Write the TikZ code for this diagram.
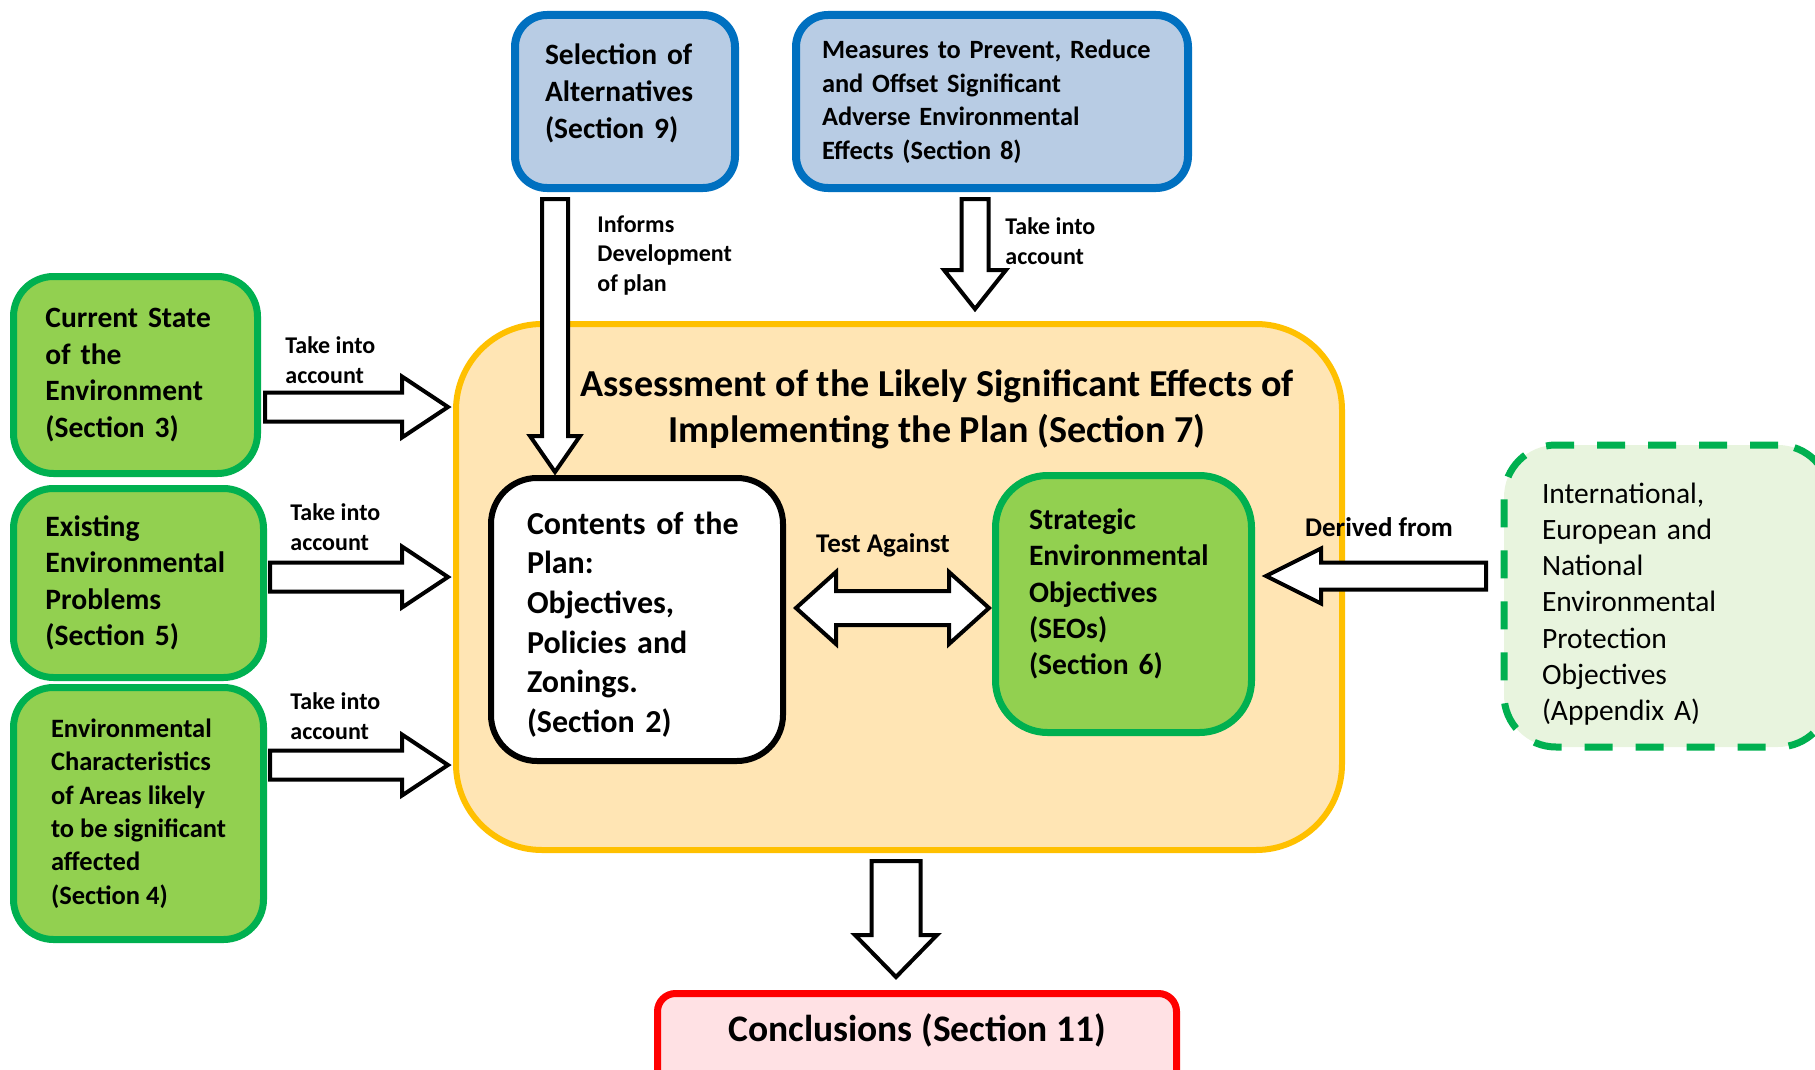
\documentclass[tikz,border=0pt]{standalone}
\usepackage{fontspec}
\setmainfont{Carlito}
\usetikzlibrary{calc}

\definecolor{blueedge}{HTML}{0070C0}
\definecolor{bluefill}{HTML}{B8CCE4}
\definecolor{greenedge}{HTML}{00B050}
\definecolor{greenfill}{HTML}{92D050}
\definecolor{orangeedge}{HTML}{FFC000}
\definecolor{orangefill}{HTML}{FFE5B4}
\definecolor{palegreen}{HTML}{E8F4DE}
\definecolor{rededge}{HTML}{FF0000}
\definecolor{pinkfill}{HTML}{FFE1E4}

\newcommand{\fsz}[2]{\fontsize{#1}{#2}\selectfont}

\tikzset{
    shaftw/.store in=\shaftw, headw/.store in=\headw, headl/.store in=\headl,
    tipgap/.store in=\tipgap,
    shaftw=7.25pt, headw=15.25pt, headl=23pt, tipgap=1.5pt,
    fat/.style={draw, fill=white, line width=2pt, line join=miter,
        to path={let \p1=(\tikztostart), \p2=(\tikztotarget),
            \n1={atan2(\y2-\y1,\x2-\x1)}, \n2={abs(\x2-\x1)+abs(\y2-\y1)-\tipgap} in
            [shift={(\p1)}, rotate=\n1]
            (0pt,-\shaftw) -- ({\n2*1pt-\headl},-\shaftw) -- ({\n2*1pt-\headl},-\headw)
            -- ({\n2*1pt},0pt) -- ({\n2*1pt-\headl},\headw) -- ({\n2*1pt-\headl},\shaftw)
            -- (0pt,\shaftw) -- cycle}},
    fatboth/.style={draw, fill=white, line width=2pt, line join=miter,
        to path={let \p1=(\tikztostart), \p2=(\tikztotarget),
            \n1={atan2(\y2-\y1,\x2-\x1)}, \n2={abs(\x2-\x1)+abs(\y2-\y1)-\tipgap} in
            [shift={(\p1)}, rotate=\n1]
            (0pt,0pt) -- (\headl,\headw) -- (\headl,\shaftw) -- ({\n2*1pt-\headl},\shaftw)
            -- ({\n2*1pt-\headl},\headw) -- ({\n2*1pt},0pt) -- ({\n2*1pt-\headl},-\headw)
            -- ({\n2*1pt-\headl},-\shaftw) -- (\headl,-\shaftw) -- (\headl,-\headw) -- cycle}},
    bluebox/.style={draw=blueedge, fill=bluefill, line width=4pt, rounded corners=16pt,
        inner sep=0pt, align=left},
    greenbox/.style={draw=greenedge, fill=greenfill, line width=3.5pt, rounded corners=20pt,
        inner sep=0pt, align=left},
    frame/.style={draw=orangeedge, fill=orangefill, line width=3pt, rounded corners=43pt,
        inner sep=0pt},
    planbox/.style={draw=black, fill=white, line width=3pt, rounded corners=23pt,
        inner sep=0pt, align=left},
    dashbox/.style={draw=greenedge, fill=palegreen, line width=3.5pt, rounded corners=26pt,
        dash pattern=on 14pt off 11.5pt, inner sep=0pt, align=left},
    endbox/.style={draw=rededge, fill=pinkfill, line width=3.5pt, rounded corners=9pt,
        inner sep=0pt, align=center},
    lbl/.style={inner sep=0pt, align=left, font=\bfseries\fsz{12}{14.75}},
}

\begin{document}
\begin{tikzpicture}[x=0.5pt, y=-0.5pt]
    \useasboundingbox (0,0) rectangle (1815,1070);
    \clip (0,0) rectangle (1815,1070);

    % assessment frame
    \node[frame, minimum width=443pt, minimum height=263pt] (asmt) at (899,587) {};
    \node[align=center, font=\bfseries\fsz{19.05}{23}] (title) at (937,409)
        {Assessment of the Likely Significant Effects of\\Implementing the Plan (Section 7)};

    % top boxes
    \node[bluebox, minimum width=110pt, minimum height=86.5pt, text width=80pt, text depth=47.7pt,
        font=\bfseries\fsz{14.75}{18.5}] (sel) at (625,101.5)
        {Selection of\\Alternatives\\(Section 9)};
    \node[bluebox, minimum width=196pt, minimum height=86.5pt, text width=170pt,
        font=\bfseries\fsz{13.2}{16.75}] (meas) at (992,101.5)
        {Measures to Prevent, Reduce\\and Offset Significant\\Adverse Environmental\\Effects (Section 8)};

    % left boxes
    \node[greenbox, minimum width=122pt, minimum height=98.5pt, text width=90pt,
        font=\bfseries\fsz{14.75}{18.25}] (cur) at (135.5,375)
        {Current State\\of the\\Environment\\(Section 3)};
    \node[greenbox, minimum width=125pt, minimum height=94.5pt, text width=93pt,
        font=\bfseries\fsz{14.8}{18.25}] (exist) at (138.5,583)
        {Existing\\Environmental\\Problems\\(Section 5)};
    \node[greenbox, minimum width=125pt, minimum height=126pt,
        font=\bfseries\fsz{13.25}{16.7}] (envc) at (138.5,813.5)
        {Environmental\\Characteristics\\of Areas likely\\to be significant\\affected\\(Section 4)};

    % inner boxes
    \node[planbox, minimum width=146pt, minimum height=141.5pt, text width=110pt, text height=16.2pt,
        font=\bfseries\fsz{16}{19.8}] (cont) at (637,619.5)
        {Contents of the\\Plan:\\Objectives,\\Policies and\\Zonings.\\(Section 2)};
    \node[greenbox, rounded corners=26pt, minimum width=128pt, minimum height=128.5pt,
        text width=94.5pt, text depth=84.7pt, font=\bfseries\fsz{14.8}{18.1}] (seo) at (1123.5,604)
        {Strategic\\Environmental\\Objectives\\(SEOs)\\(Section 6)};

    % right and bottom boxes
    \node[dashbox, minimum width=163pt, minimum height=151pt, text width=125pt, text height=18.3pt,
        font=\fsz{14.75}{18.15}] (intl) at (1667,596)
        {International,\\European and\\National\\Environmental\\Protection\\Objectives\\(Appendix A)};
    \node[endbox, anchor=north, minimum width=259.5pt, minimum height=50pt, text depth=16pt,
        font=\bfseries\fsz{18.75}{23}] (conc) at (917,990) {Conclusions (Section 11)};

    % block arrows
    \coordinate (measout) at ([shift={(-17,7)}]meas.south);
    \coordinate (asmtout) at ([shift={(-3,8)}]asmt.south);
    \coordinate (intlout) at ([shift={(-14.5,-20)}]intl.west);
    \draw[fat, tipgap=2.5pt] ([shift={(4,32)}]cur.east) to ([yshift=-16pt]cur.east -| asmt.west);
    \draw[fat, tipgap=2.5pt] ([shift={(3,-6)}]exist.east) to ([yshift=3pt]exist.east -| asmt.west);
    \draw[fat, tipgap=2.5pt] ([shift={(3,-48.5)}]envc.east) to ([yshift=24.25pt]envc.east -| asmt.west);
    \draw[fat, shaftw=6.5pt, headw=12.5pt, headl=18pt]
        ([shift={(-70,7)}]sel.south) to ([xshift=-35pt]sel.south |- cont.north);
    \draw[fat, shaftw=6.75pt, headw=15.5pt, headl=19.5pt]
        (measout) to ([yshift=4.5pt]asmt.north -| measout);
    \draw[fat, shaftw=12.25pt, headw=20.5pt, headl=21pt]
        (asmtout) to ([yshift=5pt]conc.north -| asmtout);
    \draw[fatboth, shaftw=8.5pt, headw=18pt, headl=20pt]
        ([shift={(10,-11.5)}]cont.east) to ([yshift=5.75pt]cont.east -| seo.west);
    \draw[fat, shaftw=6.75pt, headw=13.75pt, headl=27.5pt]
        (intlout) to ([xshift=4pt]seo.east |- intlout);

    % arrow labels
    \node[lbl, anchor=west] (inf) at (597,255.5) {Informs\\Development\\of plan};
    \node[lbl, anchor=west] (takemeas) at (1005,241) {Take into\\account};
    \node[lbl, anchor=west] (takecur) at (285,360) {Take into\\account};
    \node[lbl, anchor=west] (takeexist) at (290,527) {Take into\\account};
    \node[lbl, anchor=west] (takeenvc) at (290,716) {Take into\\account};
    \node[lbl, font=\bfseries\fsz{13.5}{16}] (test) at (883,545) {Test Against};
    \node[lbl, font=\bfseries\fsz{13.5}{16}] (derived) at (1379,527) {Derived from};

\end{tikzpicture}
\end{document}
